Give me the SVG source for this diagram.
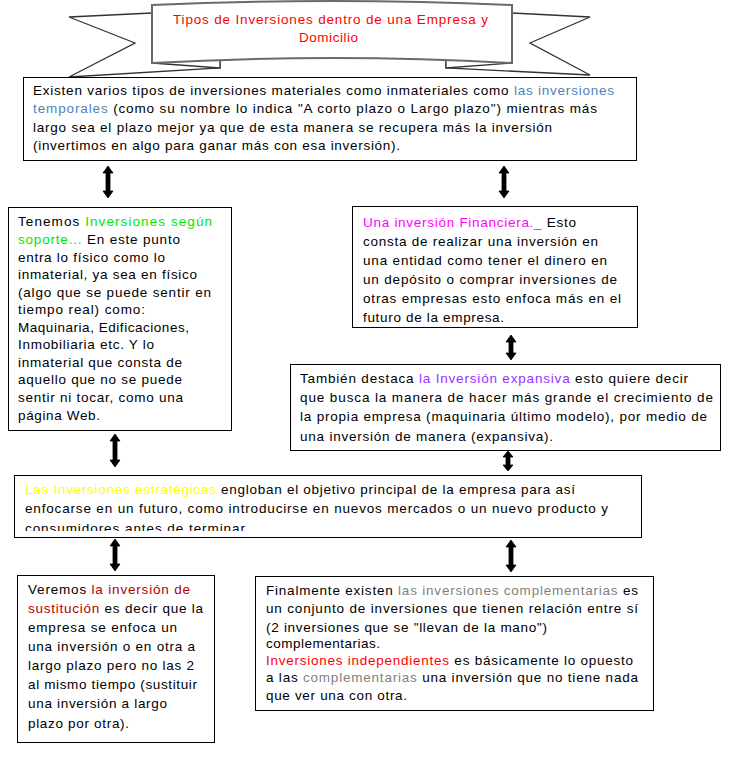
<svg xmlns="http://www.w3.org/2000/svg" width="731" height="765" viewBox="0 0 731 765">
<style>
.box{fill:#fff;stroke:#000;stroke-width:1}
.t{font-family:"Liberation Sans",Arial,sans-serif;font-size:13.5px;fill:#000}
.title{font-family:"Liberation Sans",Arial,sans-serif;font-size:13.5px;fill:#ff0000}
.blue{fill:#4f81bd}
.green{fill:#00e600}
.mag{fill:#ff00ff}
.purp{fill:#9933ff}
.yel{fill:#ffff00}
.dred{fill:#b00000}
.gray{fill:#7f7f7f}
.red{fill:#ff0000}
.tail{fill:#fff;stroke:#333;stroke-width:1.3;stroke-linejoin:miter}
.panel{fill:#fff;stroke:#6a6a6a;stroke-width:2}
.arr{fill:#000;stroke:#000;stroke-width:0.8;stroke-linejoin:miter}
</style>
<defs>
<clipPath id="clipStrat"><rect x="15" y="476" width="626" height="55"/></clipPath>
<clipPath id="clipFin"><rect x="353" y="207" width="284" height="119"/></clipPath>
</defs>
<rect width="731" height="765" fill="#fff"/>

<g id="banner">
<path class="tail" d="M152,13 L69,17 L135,43 L69,77 L220,68 L220,61"/>
<path class="tail" d="M152,63 L220,68 L220,61"/>
<path class="tail" d="M512,13 L590,17 L530,43 L590,75 L446,68 L446,61"/>
<path class="tail" d="M512,63 L446,68 L446,61"/>
<path class="panel" d="M152,5 Q332,-3 512,5 L512,63 Q332,53 152,63 Z"/>
<text class="title" x="330.5" y="24" text-anchor="middle" textLength="315" lengthAdjust="spacing">Tipos de Inversiones dentro de una Empresa y</text>
<text class="title" x="328.5" y="42" text-anchor="middle" textLength="59" lengthAdjust="spacing">Domicilio</text>
</g>

<g id="connectors">
<path class="arr" d="M108,166 L113,173 L110,173 L110,191 L113,191 L108,198 L103,191 L106,191 L106,173 L103,173 Z"/>
<path class="arr" d="M504,166 L509,173 L506,173 L506,191 L509,191 L504,198 L499,191 L502,191 L502,173 L499,173 Z"/>
<path class="arr" d="M511,335 L516,342 L513,342 L513,353 L516,353 L511,360 L506,353 L509,353 L509,342 L506,342 Z"/>
<path class="arr" d="M115,434 L120,441 L117,441 L117,460 L120,460 L115,467 L110,460 L113,460 L113,441 L110,441 Z"/>
<path class="arr" d="M508,451 L513,457 L510,457 L510,465 L513,465 L508,471 L503,465 L506,465 L506,457 L503,457 Z"/>
<path class="arr" d="M115,539 L120,546 L117,546 L117,564 L120,564 L115,571 L110,564 L113,564 L113,546 L110,546 Z"/>
<path class="arr" d="M511,540 L516,547 L513,547 L513,565 L516,565 L511,572 L506,565 L509,565 L509,547 L506,547 Z"/>
</g>

<g id="intro">
<rect class="box" x="23.5" y="77.5" width="613" height="83"/>
<text class="t" x="33" y="95" textLength="581" lengthAdjust="spacing">Existen varios tipos de inversiones materiales como inmateriales como <tspan class="blue">las inversiones</tspan></text>
<text class="t" x="33" y="113" textLength="564" lengthAdjust="spacing"><tspan class="blue">temporales</tspan> (como su nombre lo indica "A corto plazo o Largo plazo") mientras más</text>
<text class="t" x="33" y="132" textLength="519" lengthAdjust="spacing">largo sea el plazo mejor ya que de esta manera se recupera más la inversión</text>
<text class="t" x="33" y="150" textLength="367" lengthAdjust="spacing">(invertimos en algo para ganar más con esa inversión).</text>
</g>

<g id="soporte">
<rect class="box" x="8.5" y="207.5" width="223" height="223"/>
<text class="t" x="18" y="226" textLength="194" lengthAdjust="spacing">Tenemos <tspan class="green">Inversiones según</tspan></text>
<text class="t" x="18" y="244" textLength="162" lengthAdjust="spacing"><tspan class="green">soporte...</tspan> En este punto</text>
<text class="t" x="18" y="261.5" textLength="147" lengthAdjust="spacing">entra lo físico como lo</text>
<text class="t" x="18" y="279" textLength="179" lengthAdjust="spacing">inmaterial, ya sea en físico</text>
<text class="t" x="18" y="296.5" textLength="193" lengthAdjust="spacing">(algo que se puede sentir en</text>
<text class="t" x="18" y="314" textLength="127" lengthAdjust="spacing">tiempo real) como:</text>
<text class="t" x="18" y="331.5" textLength="171" lengthAdjust="spacing">Maquinaria, Edificaciones,</text>
<text class="t" x="18" y="349" textLength="136" lengthAdjust="spacing">Inmobiliaria etc. Y lo</text>
<text class="t" x="18" y="366.5" textLength="164" lengthAdjust="spacing">inmaterial que consta de</text>
<text class="t" x="18" y="384" textLength="164" lengthAdjust="spacing">aquello que no se puede</text>
<text class="t" x="18" y="402" textLength="165" lengthAdjust="spacing">sentir ni tocar, como una</text>
<text class="t" x="18" y="419.5" textLength="82" lengthAdjust="spacing">página Web.</text>
</g>

<g id="financiera">
<rect class="box" x="352.5" y="206.5" width="285" height="121"/>
<g clip-path="url(#clipFin)">
<text class="t" x="363" y="227" textLength="213" lengthAdjust="spacing"><tspan class="mag">Una inversión Financiera._</tspan> Esto</text>
<text class="t" x="363" y="246" textLength="235" lengthAdjust="spacing">consta de realizar una inversión en</text>
<text class="t" x="363" y="264.5" textLength="244" lengthAdjust="spacing">una entidad como tener el dinero en</text>
<text class="t" x="363" y="283.5" textLength="254" lengthAdjust="spacing">un depósito o comprar inversiones de</text>
<text class="t" x="363" y="302.5" textLength="258" lengthAdjust="spacing">otras empresas esto enfoca más en el</text>
<text class="t" x="363" y="322" textLength="141" lengthAdjust="spacing">futuro de la empresa.</text>
</g>
</g>

<g id="expansiva">
<rect class="box" x="290.5" y="364.5" width="430" height="86"/>
<text class="t" x="300" y="383" textLength="388" lengthAdjust="spacing">También destaca <tspan class="purp">la Inversión expansiva</tspan> esto quiere decir</text>
<text class="t" x="300" y="402" textLength="413" lengthAdjust="spacing">que busca la manera de hacer más grande el crecimiento de</text>
<text class="t" x="300" y="421" textLength="407" lengthAdjust="spacing">la propia empresa (maquinaria último modelo), por medio de</text>
<text class="t" x="300" y="441" textLength="253" lengthAdjust="spacing">una inversión de manera (expansiva).</text>
</g>

<g id="estrategicas">
<rect class="box" x="14.5" y="475.5" width="627" height="62"/>
<g clip-path="url(#clipStrat)">
<text class="t" x="25" y="494" textLength="550" lengthAdjust="spacing"><tspan class="yel">Las Inversiones estratégicas</tspan> engloban el objetivo principal de la empresa para así</text>
<text class="t" x="25" y="513" textLength="583" lengthAdjust="spacing">enfocarse en un futuro, como introducirse en nuevos mercados o un nuevo producto y</text>
<text class="t" x="25" y="533" textLength="220" lengthAdjust="spacing">consumidores antes de terminar</text>
</g>
</g>

<g id="sustitucion">
<rect class="box" x="17.5" y="575.5" width="197" height="167"/>
<text class="t" x="28" y="594" textLength="162" lengthAdjust="spacing">Veremos <tspan class="dred">la inversión de</tspan></text>
<text class="t" x="28" y="613" textLength="175" lengthAdjust="spacing"><tspan class="dred">sustitución</tspan> es decir que la</text>
<text class="t" x="28" y="632" textLength="149" lengthAdjust="spacing">empresa se enfoca un</text>
<text class="t" x="28" y="651" textLength="167" lengthAdjust="spacing">una inversión o en otra a</text>
<text class="t" x="28" y="670" textLength="166" lengthAdjust="spacing">largo plazo pero no las 2</text>
<text class="t" x="28" y="689" textLength="169" lengthAdjust="spacing">al mismo tiempo (sustituir</text>
<text class="t" x="28" y="708" textLength="139" lengthAdjust="spacing">una inversión a largo</text>
<text class="t" x="28" y="728" textLength="101" lengthAdjust="spacing">plazo por otra).</text>
</g>

<g id="complementarias">
<rect class="box" x="255.5" y="576.5" width="398" height="134"/>
<text class="t" x="266" y="595" textLength="372" lengthAdjust="spacing">Finalmente existen <tspan class="gray">las inversiones complementarias</tspan> es</text>
<text class="t" x="266" y="613.3" textLength="372" lengthAdjust="spacing">un conjunto de inversiones que tienen relación entre sí</text>
<text class="t" x="266" y="631.7" textLength="281" lengthAdjust="spacing">(2 inversiones que se "llevan de la mano")</text>
<text class="t" x="266" y="648.3" textLength="114" lengthAdjust="spacing">complementarias.</text>
<text class="t" x="266" y="665" textLength="367" lengthAdjust="spacing"><tspan class="red">Inversiones independientes</tspan> es básicamente lo opuesto</text>
<text class="t" x="266" y="682.3" textLength="372" lengthAdjust="spacing">a las <tspan class="gray">complementarias</tspan> una inversión que no tiene nada</text>
<text class="t" x="266" y="700" textLength="141" lengthAdjust="spacing">que ver una con otra.</text>
</g>
</svg>
